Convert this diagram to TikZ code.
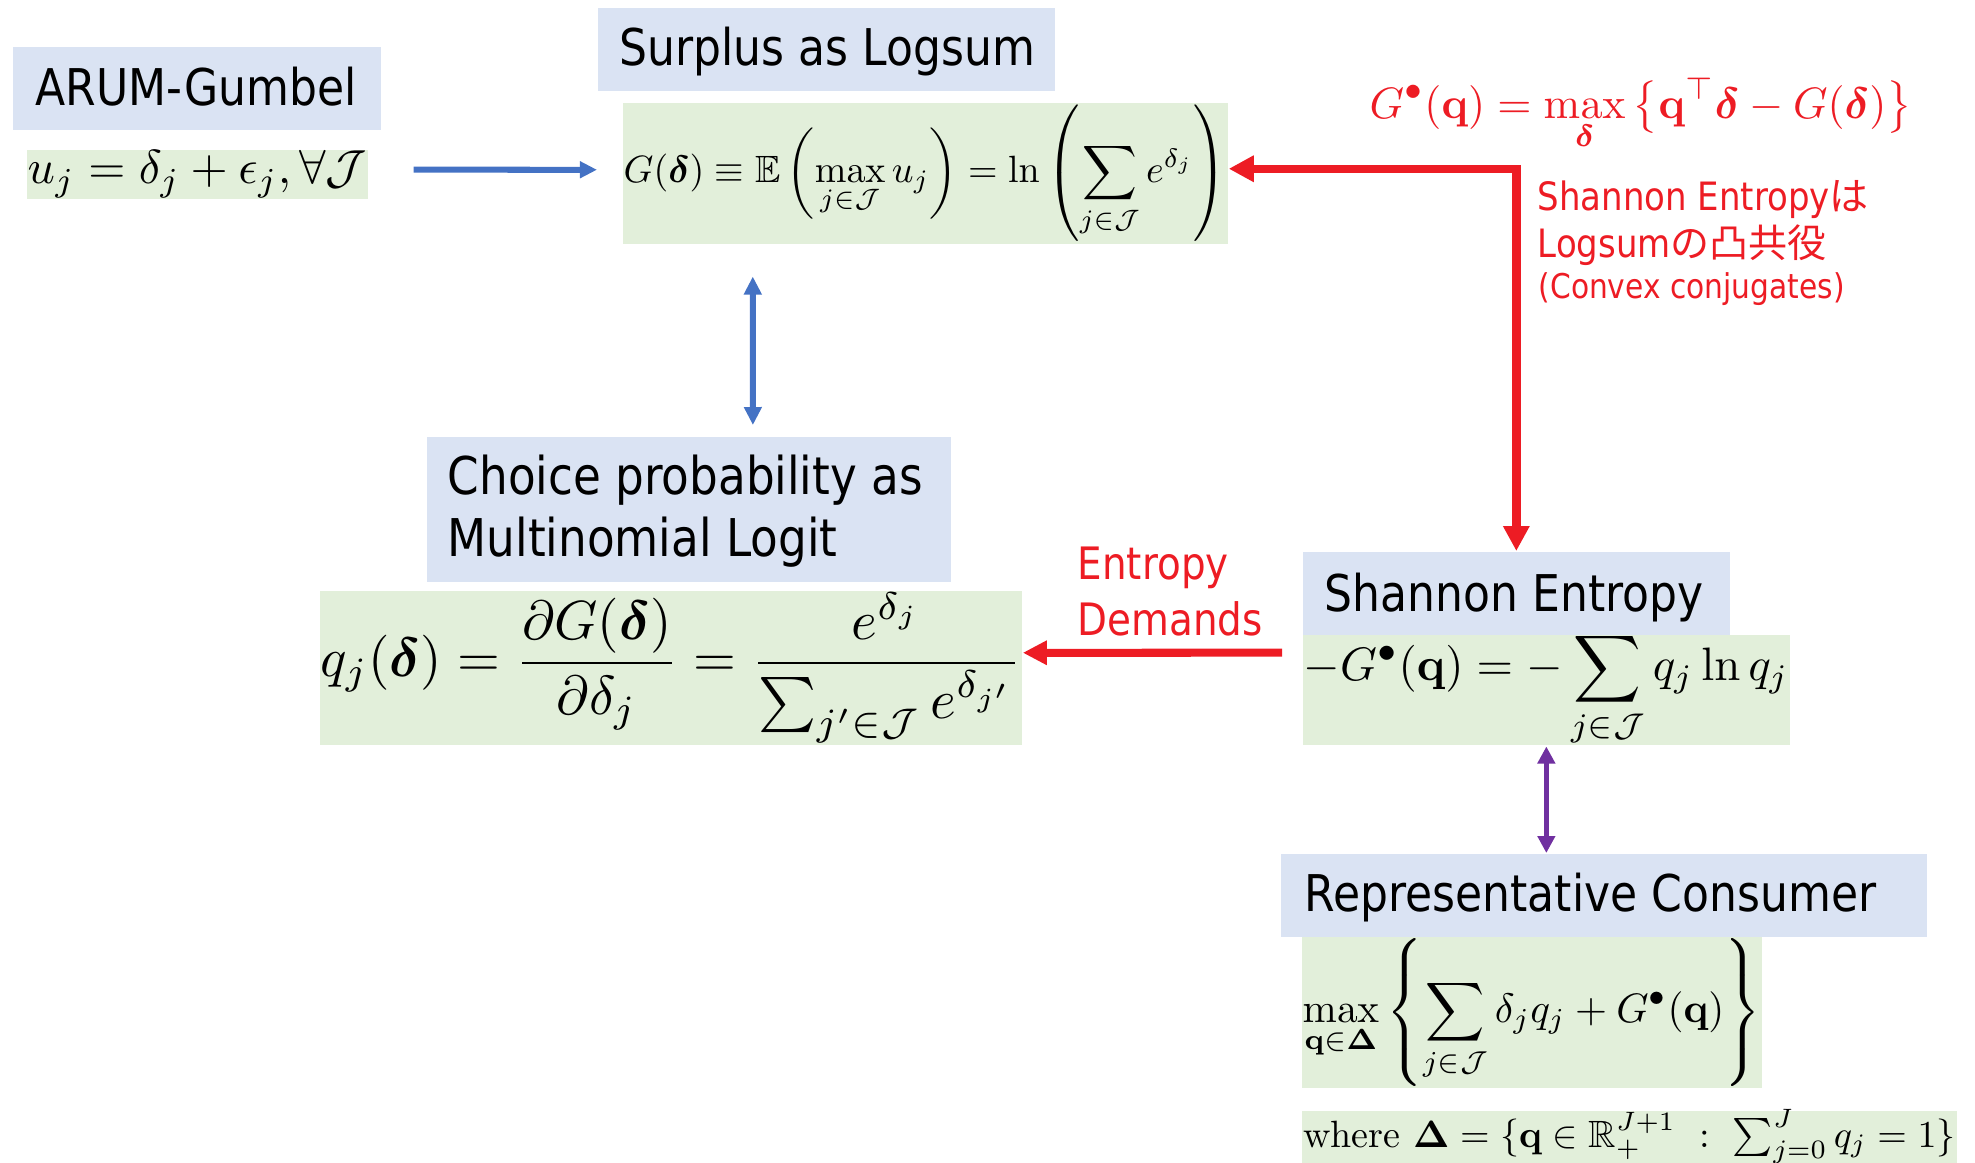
\documentclass[tikz,border=0pt]{standalone}
\usepackage{amsmath,amssymb}
\usepackage[no-math]{fontspec}
\usetikzlibrary{arrows.meta}
\newfontfamily\ttlfont{DejaVu Sans}[FakeStretch=0.87]
\newfontfamily\jpfont{Noto Sans CJK JP}
\definecolor{tblue}{HTML}{DAE3F3}
\definecolor{fgreen}{HTML}{E2EFDA}
\definecolor{ablue}{HTML}{4472C4}
\definecolor{ared}{HTML}{ED1C24}
\definecolor{apurple}{HTML}{7030A0}
\begin{document}
\begin{tikzpicture}[x=0.01cm,y=-0.01cm,
  tbox/.style={fill=tblue, draw=none, inner sep=0, anchor=north west},
  gbox/.style={fill=fgreen, draw=none, inner sep=0, anchor=north west},
  ttl/.style={font=\ttlfont\fontsize{14.4}{17}\selectfont, anchor=base west, inner sep=0},
  rtxt/.style={font=\ttlfont\fontsize{11.1}{13}\selectfont, text=ared, anchor=base west, inner sep=0},
  fm/.style={inner sep=0},
  redarr/.style={draw=ared, line width=0.085cm, {Triangle[length=0.25cm,width=0.25cm]}-{Triangle[length=0.25cm,width=0.25cm]}},
  redone/.style={draw=ared, line width=0.08cm, -{Triangle[length=0.24cm,width=0.23cm]}},
  bluearr/.style={draw=ablue, line width=0.06cm, -{Triangle[length=0.17cm,width=0.16cm]}},
  bluedbl/.style={draw=ablue, line width=0.06cm, {Triangle[length=0.18cm,width=0.17cm]}-{Triangle[length=0.18cm,width=0.17cm]}},
  purpdbl/.style={draw=apurple, line width=0.05cm, {Triangle[length=0.17cm,width=0.17cm]}-{Triangle[length=0.17cm,width=0.17cm]}}
]
\useasboundingbox (0,0) rectangle (1975,1162);

% ARUM-Gumbel
\node[tbox, minimum width=3.68cm, minimum height=0.83cm] (arumT) at (12,46) {};
\node[ttl] (arumTxt) at (35,105) {ARUM-Gumbel};
\node[gbox, minimum width=3.41cm, minimum height=0.49cm] (ubox) at (26,149) {};
\node[fm] (ufm) at (ubox.center) {\resizebox{3.39cm}{!}{$u_j=\delta_j+\epsilon_j,\forall\mathcal{J}$}};

% Surplus as Logsum
\node[tbox, minimum width=4.57cm, minimum height=0.83cm] (surT) at (597,7) {};
\node[ttl] (surTxt) at (619,65) {Surplus as Logsum};
\node[gbox, minimum width=6.05cm, minimum height=1.41cm] (logbox) at (622,102) {};
\node[fm] (logfm) at (logbox.center) {\resizebox{6.03cm}{!}{$\displaystyle G(\boldsymbol{\delta})\equiv\mathbb{E}\left(\max_{j\in\mathcal{J}}u_j\right)=\ln\left(\sum_{j\in\mathcal{J}}e^{\delta_j}\right)$}};

% red conjugate formula and text
\node[fm, anchor=base west, text=ared] (conjfm) at (1369,118) {\resizebox{5.42cm}{!}{$\displaystyle G^\bullet(\mathbf{q})=\max_{\boldsymbol{\delta}}\,\bigl\{\mathbf{q}^\top\boldsymbol{\delta}-G(\boldsymbol{\delta})\bigr\}$}};
\node[rtxt] (r1) at (1537,210) {Shannon Entropy{\jpfont は}};
\node[rtxt] (r2) at (1537,257) {Logsum{\jpfont の凸共役}};
\node[rtxt, font=\ttlfont\fontsize{9.7}{12}\selectfont] (r3) at (1538,298) {(Convex conjugates)};

% Choice probability
\node[tbox, minimum width=5.24cm, minimum height=1.45cm] (choT) at (426,436) {};
\node[ttl, font=\ttlfont\fontsize{14.8}{17}\selectfont] (choTxt1) at (447,494) {Choice probability as};
\node[ttl, font=\ttlfont\fontsize{14.8}{17}\selectfont] (choTxt2) at (447,556) {Multinomial Logit};
\node[gbox, minimum width=7.02cm, minimum height=1.54cm] (qbox) at (319,590) {};
\node[fm] (qfm) at (qbox.center) {\resizebox{7.00cm}{!}{$\displaystyle q_j(\boldsymbol{\delta})=\frac{\partial G(\boldsymbol{\delta})}{\partial\delta_j}=\frac{e^{\delta_j}}{\sum_{j'\in\mathcal{J}}e^{\delta_{j'}}}$}};

% Entropy Demands label
\node[rtxt, font=\ttlfont\fontsize{12.7}{15}\selectfont] (ed1) at (1077,579) {Entropy};
\node[rtxt, font=\ttlfont\fontsize{12.7}{15}\selectfont] (ed2) at (1077,635) {Demands};

% Shannon Entropy
\node[tbox, minimum width=4.27cm, minimum height=0.83cm] (shaT) at (1302,551) {};
\node[ttl] (shaTxt) at (1324,611) {Shannon Entropy};
\node[gbox, minimum width=4.87cm, minimum height=1.10cm] (shabox) at (1302,634) {};
\node[fm] (shafm) at (shabox.center) {\resizebox{4.85cm}{!}{$\displaystyle -G^\bullet(\mathbf{q})=-\sum_{j\in\mathcal{J}}q_j\ln q_j$}};

% Representative Consumer
\node[tbox, minimum width=6.46cm, minimum height=0.83cm] (repT) at (1280,853) {};
\node[ttl] (repTxt) at (1304,911) {Representative Consumer};
\node[gbox, minimum width=4.60cm, minimum height=1.51cm] (maxbox) at (1301,936) {};
\node[fm] (maxfm) at (maxbox.center) {\resizebox{4.58cm}{!}{$\displaystyle \max_{\mathbf{q}\in\mathbf{\Delta}}\left\{\sum_{j\in\mathcal{J}}\delta_jq_j+G^\bullet(\mathbf{q})\right\}$}};
\node[gbox, minimum width=6.55cm, minimum height=0.52cm] (wbox) at (1301,1110) {};
\node[fm] (wfm) at (wbox.center) {\resizebox{6.52cm}{!}{$\text{where }\mathbf{\Delta}=\{\mathbf{q}\in\mathbb{R}_+^{J+1}\ :\ \sum_{j=0}^{J}q_j=1\}$}};

% connectors
\draw[bluearr] ([xshift=0.45cm,yshift=0.045cm]ubox.east) -- ([xshift=-0.25cm,yshift=0.035cm]logbox.west);
\draw[bluedbl] ([xshift=-1.725cm,yshift=-0.32cm]logbox.south) -- ([xshift=0.64cm,yshift=0.11cm]choT.north);
\draw[redarr] ([yshift=0.045cm]logbox.east) -| (shaT.north);
\draw[redone] ([xshift=-0.2cm,yshift=0.37cm]shabox.west) -- ([yshift=0.15cm]qbox.east);
\draw[purpdbl] ([yshift=-0.01cm]shabox.south) -- (shabox.south |- repT.north);
\end{tikzpicture}
\end{document}
